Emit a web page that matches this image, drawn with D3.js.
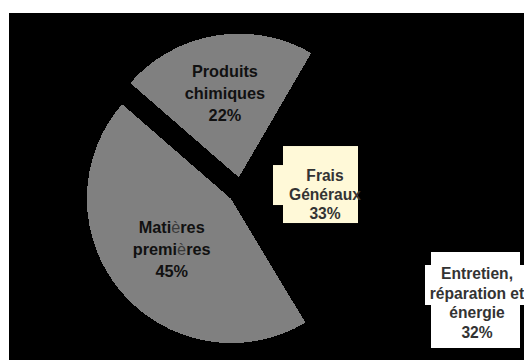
<!DOCTYPE html>
<html>
<head>
<meta charset="utf-8">
<script src="https://cdn.jsdelivr.net/npm/d3@7"></script>
<style>
  html, body { margin: 0; background: #fff; }
  svg { display: block; }
  text { font-family: "Liberation Sans", Arial, Helvetica, sans-serif; font-weight: bold; }
</style>
</head>
<body>
<svg id="chart" width="524" height="360"></svg>
<script>
// Cost structure, slices listed clockwise from the upper left
const categories = ["Produits chimiques", "Frais Généraux", "Matières premières"];
const shares = [22, 33, 45];
const labelLines = [["Produits", "chimiques"], ["Frais", "Généraux"], ["Matières", "premières"]];
const sliceFills = ["#808080", "#000000", "#808080"];

// Free-standing call-out
const noteLines = ["Entretien,", "réparation et", "énergie"];
const noteShare = 32;

const W = 524, H = 360;
const svg = d3.select("#chart");

// black plot area inside a thin white margin
svg.append("rect").attr("x", 9).attr("y", 13).attr("width", W - 9).attr("height", H - 13).attr("fill", "#000");

const cx = 241, cy = 190.5, R = 145, explode = 12.5;
const deg = Math.PI / 180;

const pie = d3.pie().sort(null).value(d => d)
  .startAngle(-49 * deg).endAngle(311 * deg);
const arcs = pie(shares);
const arc = d3.arc().innerRadius(0).outerRadius(R);

const mid = a => (a.startAngle + a.endAngle) / 2;
const dir = a => [Math.sin(mid(a)), -Math.cos(mid(a))];

const g = svg.append("g").attr("transform", `translate(${cx},${cy})`);

g.selectAll("path.slice").data(arcs).join("path")
  .attr("class", "slice")
  .attr("transform", a => { const [dx, dy] = dir(a); return `translate(${dx * explode},${dy * explode})`; })
  .attr("d", arc)
  .attr("fill", (a, i) => sliceFills[i])
  .attr("stroke", "#000").attr("stroke-width", 1)
  .attr("shape-rendering", "crispEdges");

// label placement along each slice's bisector
const labelDist = [86, 71.5, 78];
const labelShift = [0, 4.5, 0];
const boxed = [false, true, false];

function writeLines(sel, lines, fs, lh, fill) {
  lines.forEach((line, i) => {
    const t = sel.append("text")
      .attr("x", 0).attr("y", i * lh)
      .attr("text-anchor", "middle")
      .attr("font-size", fs).attr("fill", fill);
    // the grave accent is rendered in a lighter, thinner face
    line.split(/(è)/).filter(s => s.length).forEach(part => {
      const ts = t.append("tspan").text(part);
      if (part === "è" && !sel.classed("boxed")) ts.attr("font-weight", "normal").attr("fill", "#3a3a3a");
    });
  });
}

arcs.forEach((a, i) => {
  const [dx, dy] = dir(a);
  const dist = explode + labelDist[i];
  const px = cx + dx * dist, py = cy + dy * dist + labelShift[i];
  const lines = labelLines[i].concat([shares[i] + "%"]);
  if (boxed[i]) {
    const fs = 15.6, lh = 19;
    const base = py + 0.36 * fs - lh;   // baseline of first line
    const lg = svg.append("g").attr("class", "boxed").attr("transform", `translate(${px},${base})`);
    lg.append("rect").attr("x", -42).attr("y", -35).attr("width", 75).attr("height", 77).attr("fill", "#fff9d8");
    lg.append("rect").attr("x", -52).attr("y", -16).attr("width", 85).attr("height", 40).attr("fill", "#fff9d8");
    writeLines(lg, lines, fs, lh, "#333");
  } else {
    const fs = 16.3, lh = 22;
    const base = py + 0.36 * fs - lh;
    const lg = svg.append("g").attr("transform", `translate(${px},${base})`);
    writeLines(lg, lines, fs, lh, "#111");
  }
});

// call-out box on the right
{
  const fs = 15.6, lh = 19.5;
  const ng = svg.append("g").attr("class", "boxed").attr("transform", "translate(477,279)");
  ng.append("rect").attr("x", -46).attr("y", -27).attr("width", 89).attr("height", 96).attr("fill", "#fff");
  ng.append("rect").attr("x", -52).attr("y", -14).attr("width", 100).attr("height", 40).attr("fill", "#fff");
  writeLines(ng, noteLines.concat([noteShare + "%"]), fs, lh, "#333");
}
</script>
</body>
</html>
